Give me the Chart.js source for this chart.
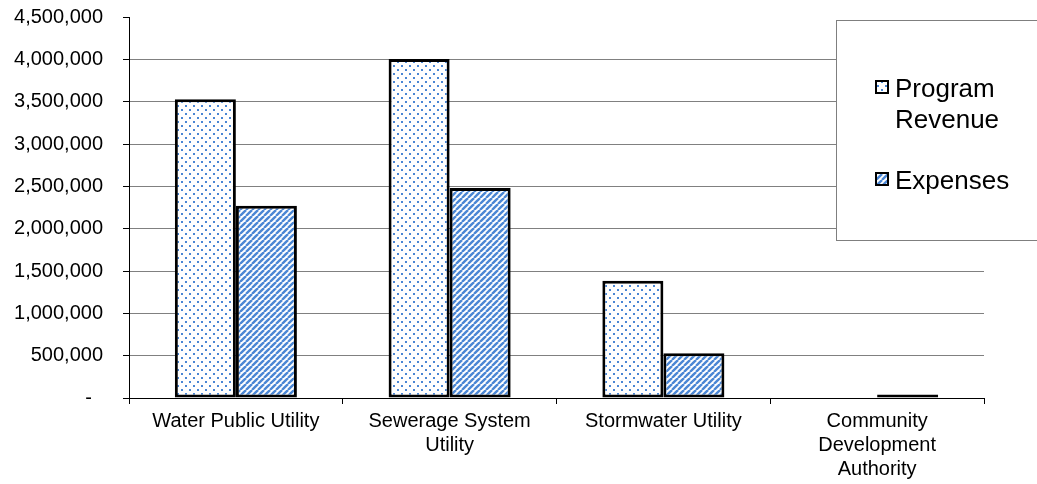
<!DOCTYPE html>
<html>
<head>
<meta charset="utf-8">
<title>Program Revenue and Expenses</title>
<script src="https://cdn.jsdelivr.net/npm/chart.js@4.4.1/dist/chart.umd.min.js"></script>
<style>
    html, body { margin: 0; padding: 0; background: #fff; }
    #revenueChart { display: block; }
</style>
</head>
<body>
<canvas id="revenueChart" width="1037" height="484"></canvas>
<script>
// Business-type activities: program revenue vs expenses
const categories = [
    ['Water Public Utility'],
    ['Sewerage System', 'Utility'],
    ['Stormwater Utility'],
    ['Community', 'Development', 'Authority']
];
const programRevenue = [3530000, 4005000, 1385000, 0];
const expenses = [2270000, 2480000, 530000, 40000];
const yTickValues = [0, 500000, 1000000, 1500000, 2000000, 2500000, 3000000, 3500000, 4000000, 4500000];

const FONT = '"Liberation Sans", Arial, sans-serif';
const BLUE = '#4a86d4';

// Fill patterns: fine dots for revenue, diagonal hatch for expenses
function dotPattern(color) {
    const c = document.createElement('canvas');
    c.width = 8;
    c.height = 8;
    const g = c.getContext('2d');
    g.fillStyle = '#fff';
    g.fillRect(0, 0, 8, 8);
    g.fillStyle = color;
    g.fillRect(1, 1, 2, 2);
    g.fillRect(5, 5, 2, 2);
    return g.createPattern(c, 'repeat');
}

function stripePattern(color) {
    const s = 6;
    const c = document.createElement('canvas');
    c.width = s;
    c.height = s;
    const g = c.getContext('2d');
    g.fillStyle = '#fff';
    g.fillRect(0, 0, s, s);
    g.strokeStyle = color;
    g.lineWidth = 2.4;
    [-s, 0, s].forEach(k => {
        g.beginPath();
        g.moveTo(k, s);
        g.lineTo(k + s, 0);
        g.stroke();
    });
    return g.createPattern(c, 'repeat');
}

function wrapText(ctx, text, maxWidth) {
    const words = text.split(' ');
    const lines = [];
    let line = '';
    words.forEach(w => {
        const test = line ? line + ' ' + w : w;
        if (line && ctx.measureText(test).width > maxWidth) {
            lines.push(line);
            line = w;
        } else {
            line = test;
        }
    });
    if (line) lines.push(line);
    return lines;
}

// Boxed legend on the right, drawn over the plot
const boxLegend = {
    id: 'boxLegend',
    afterDraw(chart) {
        const ctx = chart.ctx;
        ctx.save();
        ctx.fillStyle = '#fff';
        ctx.strokeStyle = '#7f7f7f';
        ctx.lineWidth = 1;
        ctx.fillRect(836.5, 20.5, 240, 220);
        ctx.strokeRect(836.5, 20.5, 240, 220);

        ctx.font = '26px ' + FONT;
        ctx.textBaseline = 'alphabetic';
        ctx.textAlign = 'left';
        let baseline = 97;
        chart.data.datasets.forEach(ds => {
            const lines = wrapText(ctx, ds.label, 135);
            ctx.fillStyle = ds.backgroundColor;
            ctx.fillRect(875, baseline - 17, 14, 14);
            ctx.lineWidth = 2;
            ctx.strokeStyle = '#000';
            ctx.strokeRect(876, baseline - 16, 12, 12);
            ctx.fillStyle = '#000';
            lines.forEach((ln, i) => ctx.fillText(ln, 895, baseline + i * 31));
            baseline += lines.length * 31 + 30;
        });
        ctx.restore();
    }
};

const ctx = document.getElementById('revenueChart').getContext('2d');

new Chart(ctx, {
    type: 'bar',
    data: {
        labels: categories,
        datasets: [
            {
                label: 'Program Revenue',
                data: programRevenue,
                backgroundColor: dotPattern(BLUE),
                borderColor: '#000',
                borderWidth: 3,
                borderSkipped: false
            },
            {
                label: 'Expenses',
                data: expenses,
                backgroundColor: stripePattern(BLUE),
                borderColor: '#000',
                borderWidth: 3,
                borderSkipped: false
            }
        ]
    },
    options: {
        responsive: false,
        animation: false,
        layout: {
            padding: { top: 17, right: 53, left: 0, bottom: 0 }
        },
        datasets: {
            bar: {
                categoryPercentage: 0.571,
                barPercentage: 1
            }
        },
        plugins: {
            legend: { display: false },
            tooltip: { enabled: false }
        },
        scales: {
            x: {
                grid: {
                    drawOnChartArea: false,
                    offset: true,
                    tickLength: 6,
                    tickColor: '#000'
                },
                border: { color: '#000', width: 1 },
                ticks: {
                    color: '#000',
                    font: { family: FONT, size: 20, lineHeight: 1.2 },
                    padding: 5,
                    maxRotation: 0,
                    autoSkip: false
                },
                afterFit: scale => { scale.height = 86; }
            },
            y: {
                min: 0,
                max: 4500000,
                afterBuildTicks: scale => {
                    scale.ticks = yTickValues.map(v => ({ value: v }));
                },
                grid: {
                    color: c => (c.tick && c.tick.value === 4500000 ? 'rgba(0,0,0,0)' : '#808080'),
                    tickColor: '#000',
                    tickLength: 6
                },
                border: { color: '#000', width: 1 },
                ticks: {
                    color: '#000',
                    font: { family: FONT, size: 20 },
                    padding: 20,
                    callback: v => (v === 0 ? '-  ' : v.toLocaleString('en-US'))
                },
                afterFit: scale => {
                    scale.width = 129;
                    scale.paddingTop = 0;
                    scale.paddingBottom = 0;
                }
            }
        }
    },
    plugins: [boxLegend]
});
</script>
</body>
</html>
